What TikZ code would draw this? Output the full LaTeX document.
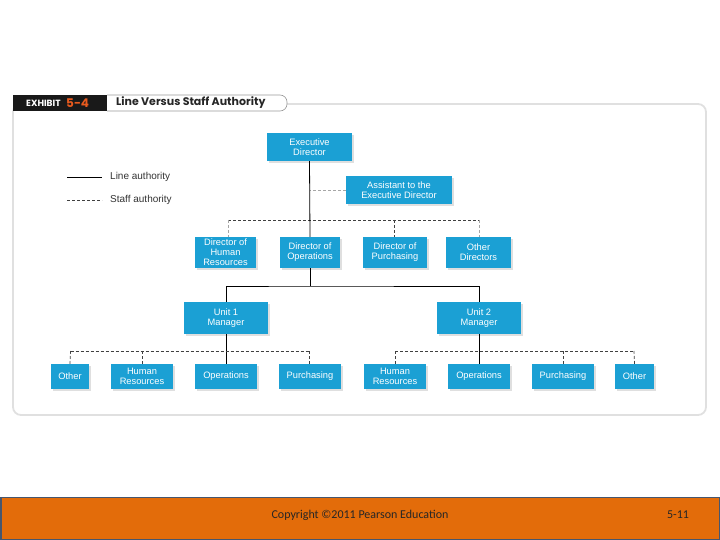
\documentclass[tikz,border=0pt]{standalone}
\usepackage{fontspec}
\setmainfont{Liberation Sans}
\newfontfamily\footfont{Carlito}
\newfontfamily\titlefont{Poppins}
\usetikzlibrary{shadows}
\definecolor{boxblue}{RGB}{27,160,212}
\definecolor{footorange}{RGB}{227,108,10}
\definecolor{footedge}{RGB}{70,86,110}
\definecolor{exorange}{RGB}{232,90,30}
\tikzset{
  orgbox/.style={fill=boxblue, text=white, font=\fontsize{9.3}{10}\selectfont, align=center,
    inner sep=1pt, drop shadow={opacity=0.25, shadow xshift=2pt, shadow yshift=-2pt}},
  lineauth/.style={draw=black, line width=0.8pt},
  staffauth/.style={draw=black!75, line width=0.7pt, dash pattern=on 3pt off 2pt},
  stafflight/.style={draw=black!35, line width=0.6pt, dash pattern=on 3pt off 2pt},
  legendtext/.style={anchor=west, text=black!80, font=\fontsize{10}{10}\selectfont, inner sep=0pt},
}
\begin{document}
\begin{tikzpicture}[x=1pt,y=-1pt]
\useasboundingbox (0,0) rectangle (720,540);
% panel
\draw[draw=black!12, line width=1.8pt, rounded corners=8pt] (13,104) -- (706,104) -- (706,415) -- (13,415) -- cycle;
% title
\fill[black!90] (13,95) rectangle (107,111);
\node[anchor=west, text=white, font=\titlefont\bfseries\fontsize{9}{9}\selectfont, inner sep=0pt] (exh) at (26,103) {EXHIBIT};
\node[anchor=west, text=exorange, font=\titlefont\bfseries\fontsize{12}{12}\selectfont, inner sep=0pt] (exn) at (66,103.5) {5-4};
\draw[fill=white, draw=black!40, line width=0.6pt, rounded corners=7pt] (107,95) -- (287,95) -- (287,111) -- (107,111);
\node[anchor=west, text=black!85, font=\titlefont\bfseries\fontsize{11}{11}\selectfont, inner sep=0pt] (ttl) at (116,102.5) {Line Versus Staff Authority};
% legend
\coordinate (la) at (67,177); \coordinate (lb) at (102,177);
\coordinate (sa) at (67,200); \coordinate (sb) at (102,200);
\draw[lineauth, line width=0.6pt] (la) -- (lb);
\draw[staffauth, line width=0.6pt] (sa) -- (sb);
\node[legendtext] (lt) at (110,177) {Line authority};
\node[legendtext] (st) at (110,200) {Staff authority};
% boxes
\node[orgbox, minimum width=85pt, minimum height=28pt] (exec) at (309.5,147) {Executive\\Director};
\node[orgbox, minimum width=106pt, minimum height=28pt] (asst) at (399,190) {Assistant to the\\Executive Director};
\node[orgbox, minimum width=61pt, minimum height=31pt, inner sep=0pt] (dhr) at (225.5,252.5) {Director of\\Human\\Resources};
\node[orgbox, minimum width=60pt, minimum height=31pt] (dops) at (310,252.5) {Director of\\Operations};
\node[orgbox, minimum width=64pt, minimum height=31pt] (dpur) at (395,252.5) {Director of\\Purchasing};
\node[orgbox, minimum width=65pt, minimum height=31pt] (doth) at (478.5,252.5) {Other\\Directors};
\node[orgbox, minimum width=84pt, minimum height=32pt] (u1) at (226,318) {Unit 1\\Manager};
\node[orgbox, minimum width=84pt, minimum height=32pt] (u2) at (479,318) {Unit 2\\Manager};
\node[orgbox, minimum width=38pt, minimum height=25pt] (o1) at (70,376.5) {Other};
\node[orgbox, minimum width=62pt, minimum height=25pt] (h1) at (142,376.5) {Human\\Resources};
\node[orgbox, minimum width=62pt, minimum height=25pt] (op1) at (226,376.5) {Operations};
\node[orgbox, minimum width=62pt, minimum height=25pt] (p1) at (310,376.5) {Purchasing};
\node[orgbox, minimum width=62pt, minimum height=25pt] (h2) at (395,376.5) {Human\\Resources};
\node[orgbox, minimum width=62pt, minimum height=25pt] (op2) at (479,376.5) {Operations};
\node[orgbox, minimum width=62pt, minimum height=25pt] (p2) at (563,376.5) {Purchasing};
\node[orgbox, minimum width=39pt, minimum height=25pt] (o2) at (634.5,376.5) {Other};
% staff links at director level
\coordinate (aj) at (310,190);
\draw[stafflight] (asst.west) -- (aj);
\coordinate (dl) at (228,220); \coordinate (dr) at (479,220); \coordinate (dp) at (394,220);
\draw[staffauth] (dl) -- (dr);
\draw[stafflight] (dl) -- (dl |- dhr.north);
\draw[stafflight] (dr) -- (dr |- doth.north);
\draw[staffauth, line width=1pt] (dp) -- (dp |- dpur.north);
% line authority
\draw[lineauth] (exec.south) -- (dops.north);
\coordinate (bj) at (310,286);
\draw[lineauth] (dops.south) -- (bj);
\draw[lineauth] (u1.north) |- (bj) -| (u2.north);
\draw[lineauth] (u1.south) -- (op1.north);
\draw[lineauth] (u2.south) -- (op2.north);
% unit staff links
\coordinate (l1) at (70.5,351); \coordinate (l2) at (309,351);
\draw[staffauth] (l1) -- (l2);
\draw[staffauth] (l1) -- (o1.north);
\draw[staffauth] (h1.north |- l1) -- (h1.north);
\draw[staffauth] (l2) -- (l2 |- p1.north);
\coordinate (r1) at (395,351); \coordinate (r2) at (634,351);
\draw[staffauth] (r1) -- (r2);
\draw[staffauth] (r1) -- (h2.north);
\draw[staffauth] (p2.north |- r1) -- (p2.north);
\draw[staffauth] (r2) -- (o2.north);
% footer
\draw[fill=footorange, draw=footedge, line width=1.5pt] (0.75,497.5) rectangle (719.25,539.25);
\node[font=\footfont\fontsize{12}{12}\selectfont, text=black!85, inner sep=0pt] (copy) at (360,515) {Copyright ©2011 Pearson Education};
\node[font=\footfont\fontsize{12}{12}\selectfont, text=black!85, inner sep=0pt] (pg) at (678,515) {5-11};
\end{tikzpicture}
\end{document}
